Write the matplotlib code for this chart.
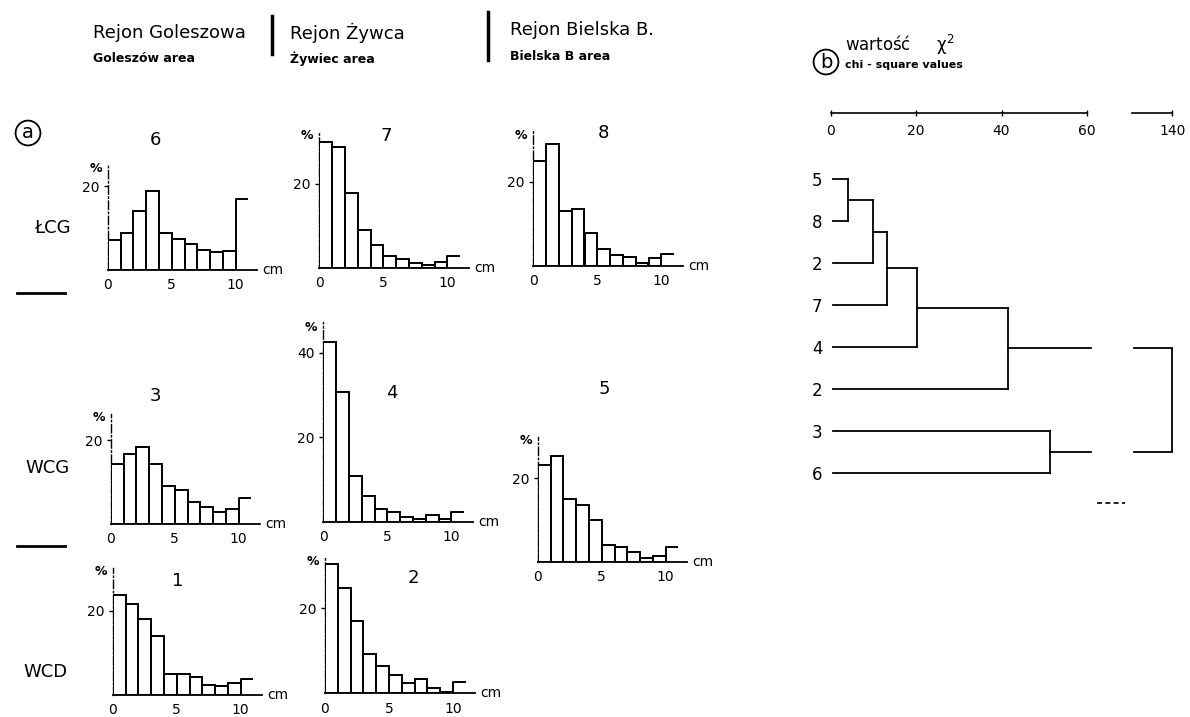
import numpy as np
import matplotlib.pyplot as plt
from matplotlib.lines import Line2D

plt.rcParams['font.family'] = ['DejaVu Sans']

W, H = 1190, 717

# 1 cm classes 0-1 ... 9-10, last class open (>10 cm)
bins = np.arange(11)

pct_6 = [7.1, 8.7, 14.1, 18.8, 8.7, 7.5, 6.2, 4.8, 4.2, 4.5, 16.9]
pct_7 = [30.0, 28.8, 17.9, 9.0, 5.4, 2.8, 2.0, 1.2, 0.6, 1.3, 2.9]
pct_8 = [25.0, 29.0, 13.1, 13.6, 7.7, 4.0, 2.5, 2.1, 0.7, 1.8, 2.8]
pct_3 = [14.2, 16.7, 18.4, 14.2, 9.1, 8.1, 5.2, 4.1, 2.9, 3.6, 6.3]
pct_4 = [42.6, 30.8, 10.8, 6.0, 3.1, 2.4, 1.0, 0.6, 1.6, 0.6, 2.3]
pct_5 = [23.1, 25.2, 15.0, 13.6, 10.0, 4.0, 3.5, 2.5, 1.0, 1.5, 3.5]
pct_1 = [23.9, 21.6, 18.0, 14.0, 5.1, 5.0, 4.2, 2.4, 2.2, 2.8, 3.9]
pct_2 = [30.4, 24.7, 17.1, 9.3, 6.4, 4.3, 2.4, 3.4, 1.2, 0.4, 2.6]

# dendrogram (b): leaves top to bottom, merges as (a, b, chi-square)
leaves = ['5', '8', '2', '7', '4', '2', '3', '6']
merges = [(0, 1, 4.1), (8, 2, 10.0), (9, 3, 13.1), (10, 4, 20.1),
          (11, 5, 41.6), (6, 7, 51.4), (12, 13, 140.0)]
chi_ticks = [0, 20, 40, 60, 140]

fig = plt.figure(figsize=(W / 100, H / 100), dpi=100)


def px_axes(left, top, width, height, **kw):
    return fig.add_axes([left / W, 1 - (top + height) / H, width / W, height / H], **kw)


def ftext(x, y, s, **kw):
    fig.text(x / W, 1 - y / H, s, **kw)


def histo(pct, x0, base, top, title, txy, ppp=4.2, yt=(20,)):
    ppc = 12.8
    xmax = 11.7
    ax = px_axes(x0, top, xmax * ppc, base - top)
    ymax = (base - top) / ppp
    ax.set_xlim(0, xmax)
    ax.set_ylim(0, ymax)
    ax.bar(bins[:-1], pct[:-1], width=1, align='edge', facecolor='white',
           edgecolor='black', lw=1.4, zorder=3)
    ax.plot([10, 10, 10.9], [0, pct[-1], pct[-1]], color='black', lw=1.4, zorder=3)
    for s in ['top', 'right']:
        ax.spines[s].set_visible(False)
    ax.spines['left'].set_linestyle((0, (6, 2, 1, 2)))
    ax.spines['left'].set_linewidth(1.0)
    ax.spines['bottom'].set_linewidth(1.3)
    ax.set_xticks([0, 5, 10])
    ax.set_yticks(list(yt))
    ax.tick_params(axis='x', length=0, pad=6, labelsize=10)
    ax.tick_params(axis='y', length=3, width=1, pad=3, labelsize=10)
    ax.patch.set_alpha(0)
    ax.text(-0.45, ymax * 0.97, '%', ha='right', va='center', fontsize=9,
            fontweight='bold')
    ax.text(12.1, 0, 'cm', ha='left', va='center', fontsize=10, clip_on=False)
    ftext(txy[0], txy[1], title, ha='center', va='center', fontsize=13)
    return ax


histo(pct_6, 107.7, 270, 165, '6', (155, 140))
histo(pct_7, 319.3, 267.7, 131.7, '7', (386, 136))
histo(pct_8, 533.3, 265.7, 131, '8', (603, 133))
histo(pct_3, 110.7, 524, 414, '3', (155, 396))
histo(pct_4, 323.3, 521.7, 321.7, '4', (392, 393), ppp=4.22, yt=(20, 40))
histo(pct_5, 537.7, 562, 437, '5', (604, 389))
histo(pct_1, 112.7, 695, 568, '1', (178, 581))
histo(pct_2, 325, 693.3, 557, '2', (413, 578), ppp=4.25)

# header
ftext(93, 33, 'Rejon Goleszowa', fontsize=13, va='center')
ftext(93, 59, 'Goleszów area', fontsize=9, va='center', fontweight='bold')
ftext(290, 33, 'Rejon Żywca', fontsize=13, va='center')
ftext(290, 59, 'Żywiec area', fontsize=9, va='center', fontweight='bold')
ftext(510, 30, 'Rejon Bielska B.', fontsize=13, va='center')
ftext(510, 56, 'Bielska B area', fontsize=9, va='center', fontweight='bold')
fig.add_artist(Line2D([272 / W, 272 / W], [1 - 16 / H, 1 - 54 / H], color='black', lw=2.5))
fig.add_artist(Line2D([488 / W, 488 / W], [1 - 12 / H, 1 - 60 / H], color='black', lw=2.5))

# row labels and separators
ftext(52, 228, 'ŁCG', fontsize=13, ha='center', va='center')
ftext(47, 468, 'WCG', fontsize=13, ha='center', va='center')
ftext(45, 672, 'WCD', fontsize=13, ha='center', va='center')
for yy in [293, 546]:
    fig.add_artist(Line2D([17 / W, 65 / W], [1 - yy / H, 1 - yy / H], color='black', lw=2))

# circled panel letters
ftext(28, 133, 'a', fontsize=14, ha='center', va='center',
      bbox=dict(boxstyle='circle,pad=0.15', fc='white', ec='black', lw=1.3))
ftext(826, 62, 'b', fontsize=14, ha='center', va='center',
      bbox=dict(boxstyle='circle,pad=0.15', fc='white', ec='black', lw=1.3))
ftext(845, 45, 'wartość     χ$^2$', fontsize=12, va='center')
ftext(845, 65, 'chi - square values', fontsize=8, va='center', fontweight='bold')


# broken chi-square scale: 0-60 linear, then jump to 130-140
def fwd(v):
    v = np.asarray(v, dtype=float)
    return np.where(v <= 65, v, np.where(v < 130, 65 + (v - 65) * 5 / 65, v - 60))


def inv(u):
    u = np.asarray(u, dtype=float)
    return np.where(u <= 65, u, np.where(u < 70, 65 + (u - 65) * 65 / 5, u + 60))


ppu = 4.27
x0d = 830.7
y_leaf0, dy = 179.0, 42.04
dtop, dbot = 114, 500
dax = px_axes(x0d, dtop, 80 * ppu, dbot - dtop)
dax.set_xscale('function', functions=(fwd, inv))
dax.set_xlim(0, 140)
dax.set_ylim((dbot - y_leaf0) / dy, (dtop - y_leaf0) / dy)
for s in dax.spines.values():
    s.set_visible(False)
dax.set_yticks(range(len(leaves)), leaves)
dax.tick_params(axis='y', length=0, pad=6, labelsize=12)
dax.patch.set_alpha(0)

pos = {i: (float(i), 0.6) for i in range(len(leaves))}
for k, (a, b, h) in enumerate(merges):
    ya, xa = pos[a]
    yb, xb = pos[b]
    kw = dict(color='black', lw=1.3, clip_on=False)
    if h > 100:
        for yy, xx in [(ya, xa), (yb, xb)]:
            dax.plot([xx, 61], [yy, yy], **kw)
            dax.plot([131, h], [yy, yy], **kw)
    else:
        dax.plot([xa, h], [ya, ya], **kw)
        dax.plot([xb, h], [yb, yb], **kw)
    dax.plot([h, h], [ya, yb], **kw)
    pos[len(leaves) + k] = ((ya + yb) / 2, h)

# scale line on top
sax = px_axes(x0d, 112, 80 * ppu, 1, sharex=dax)
sax.set_ylim(0, 1)
for s in ['top', 'right', 'left']:
    sax.spines[s].set_visible(False)
sax.spines['bottom'].set_bounds(0, 60)
sax.spines['bottom'].set_linewidth(1.2)
sax.plot([130.5, 140], [0, 0], color='black', lw=1.2, clip_on=False)
sax.set_xticks(chi_ticks, [str(t) for t in chi_ticks])
sax.set_yticks([])
sax.tick_params(axis='x', direction='inout', length=4, width=1, pad=6, labelsize=10)
sax.patch.set_alpha(0)
dax.tick_params(axis='x', bottom=False, labelbottom=False)

fig.add_artist(Line2D([1097 / W, 1125 / W], [1 - 503 / H, 1 - 503 / H], color='black',
                      lw=1.2, linestyle=(0, (3, 2))))

fig.savefig('out.png', dpi=100, facecolor='white')
